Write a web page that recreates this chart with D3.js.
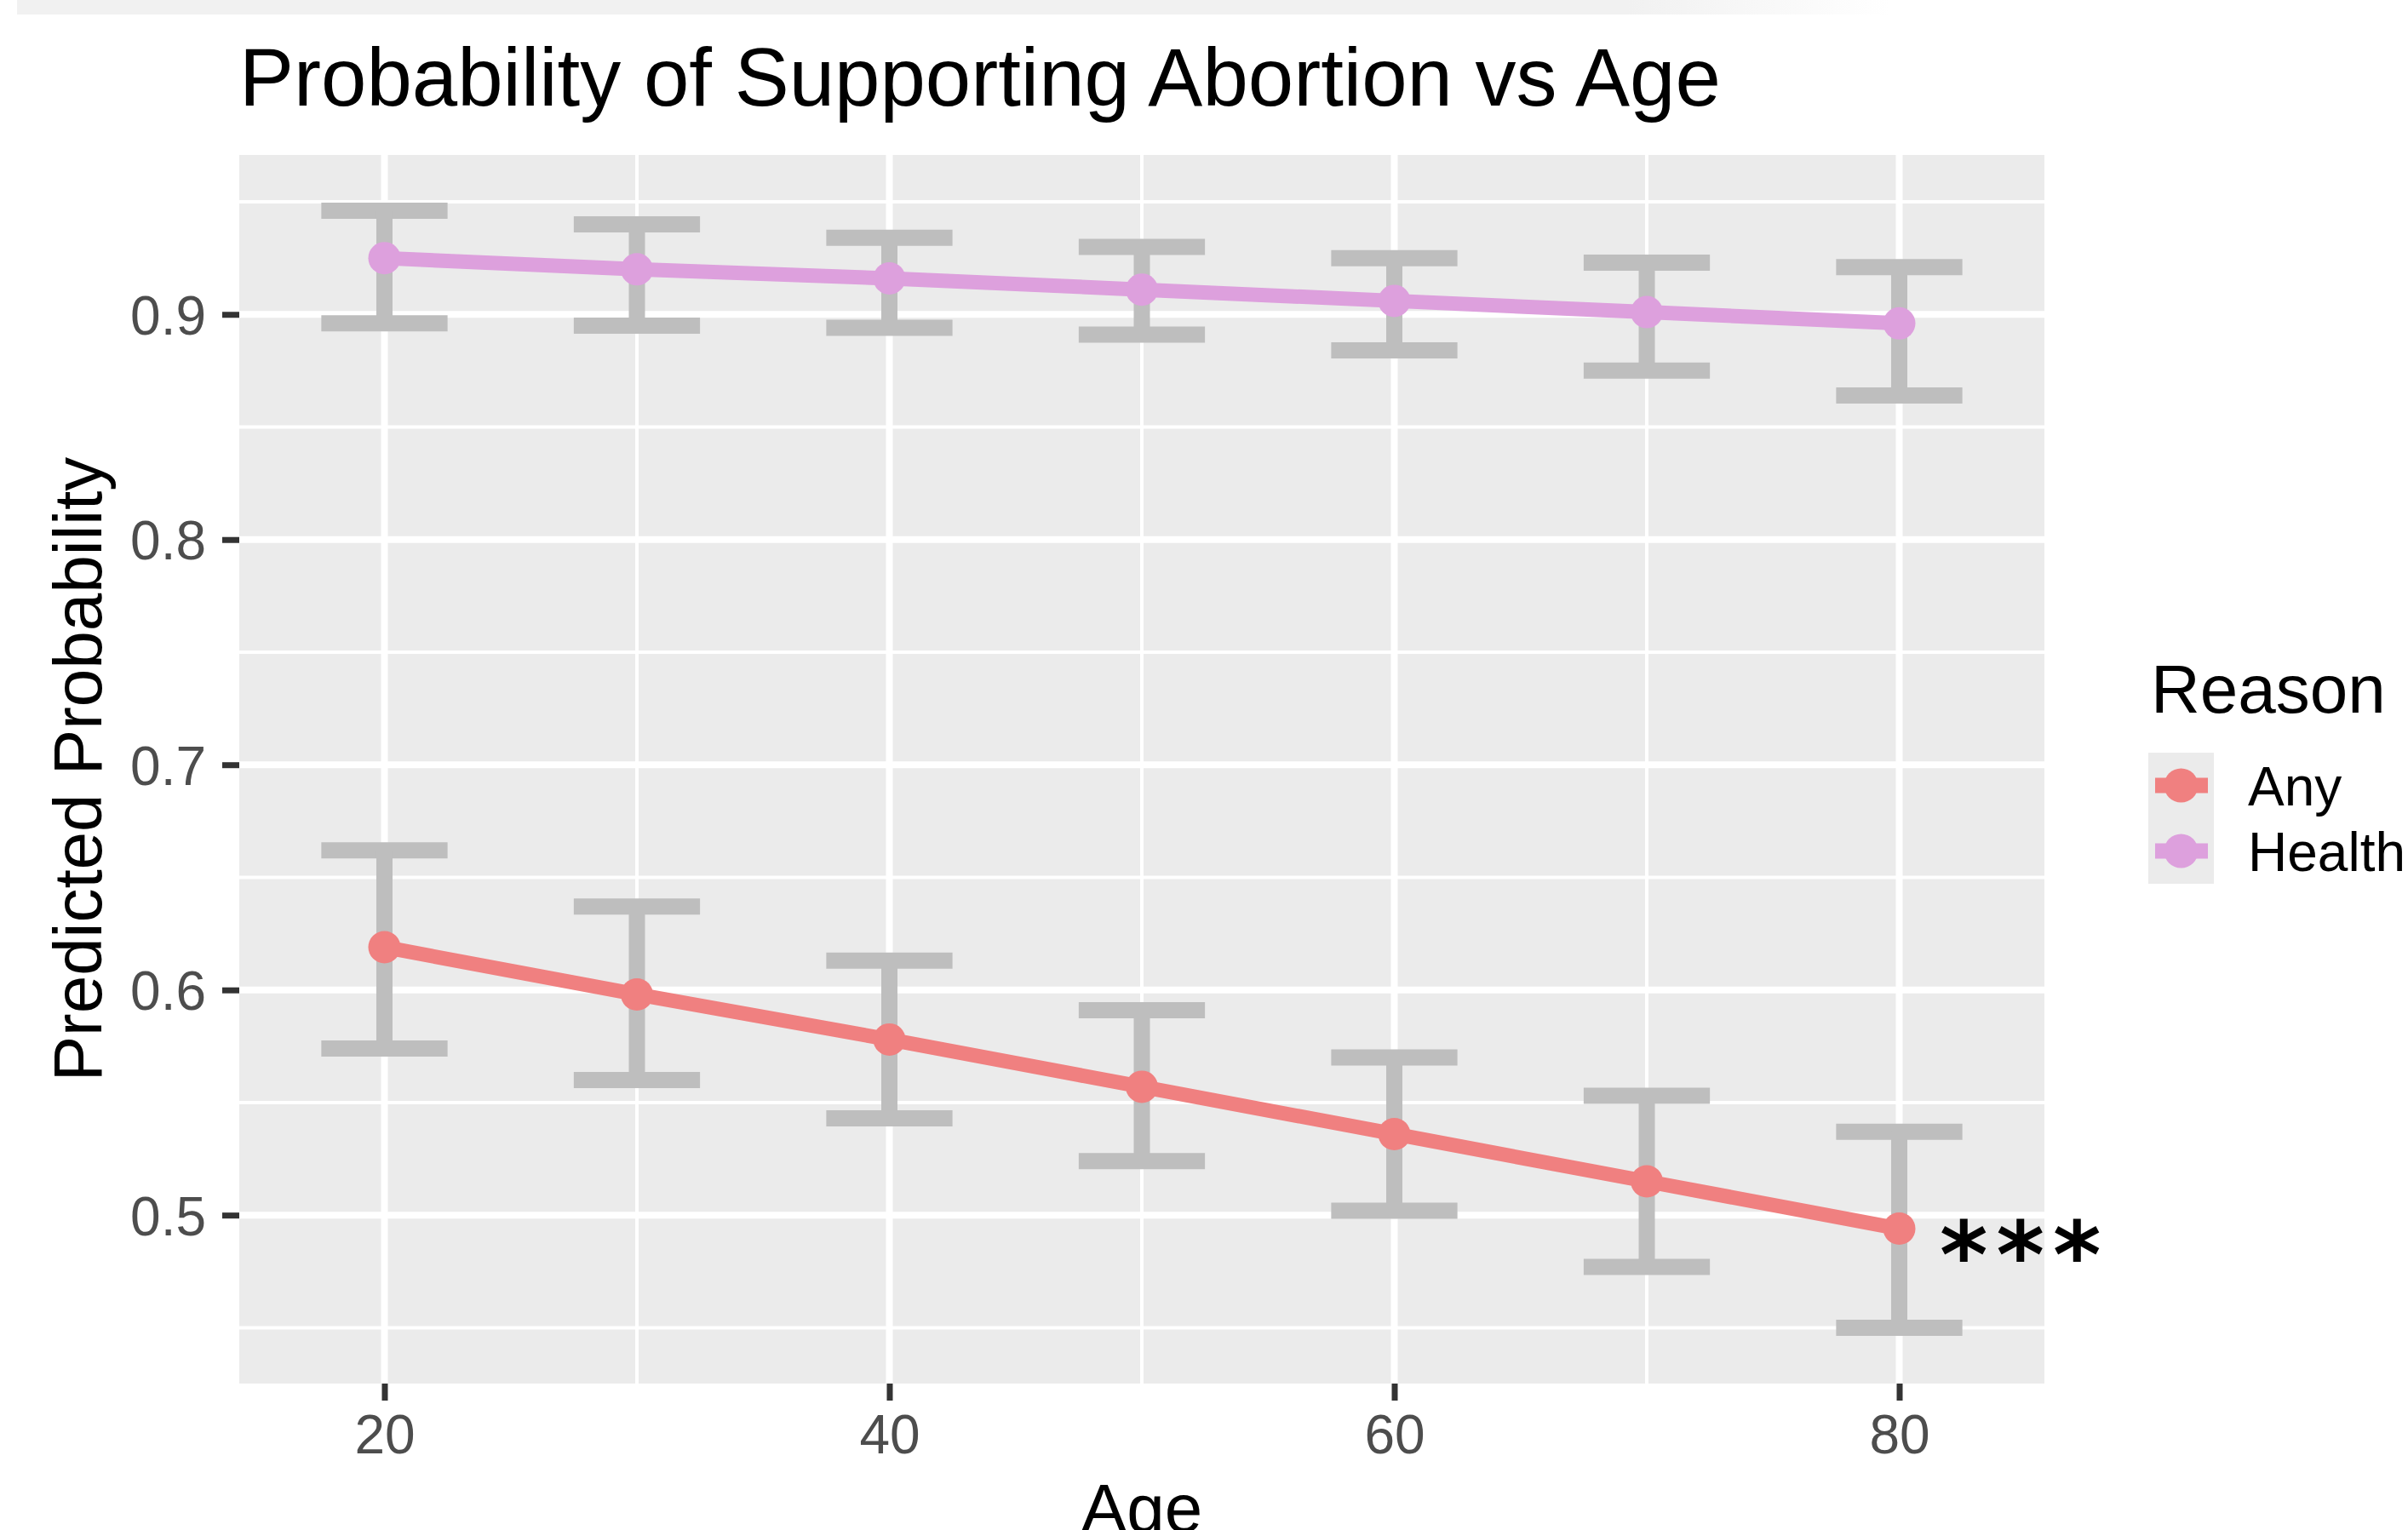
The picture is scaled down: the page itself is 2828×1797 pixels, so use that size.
<!DOCTYPE html>
<html>
<head>
<meta charset="utf-8">
<title>Probability of Supporting Abortion vs Age</title>
<script src="https://d3js.org/d3.v7.min.js"></script>
<style>
    body { margin: 0; background: #ffffff; }
    svg { display: block; font-family: "Liberation Sans", Arial, Helvetica, sans-serif; }
</style>
</head>
<body>
<svg id="drawing_region"></svg>
<script>
// data
const ages = [20, 30, 40, 50, 60, 70, 80];
const reasons = ["Any", "Health"];
const anyProb   = [0.619, 0.598, 0.578, 0.557, 0.536, 0.515, 0.494];
const anyLower  = [0.574, 0.560, 0.543, 0.524, 0.502, 0.477, 0.450];
const anyUpper  = [0.662, 0.637, 0.613, 0.591, 0.570, 0.553, 0.537];
const healthProb  = [0.925, 0.920, 0.916, 0.911, 0.906, 0.901, 0.896];
const healthLower = [0.896, 0.895, 0.894, 0.891, 0.884, 0.875, 0.864];
const healthUpper = [0.946, 0.940, 0.934, 0.930, 0.925, 0.923, 0.921];
const xTicks = [20, 40, 60, 80];
const xMinorTicks = [30, 50, 70];
const yTicks = [0.5, 0.6, 0.7, 0.8, 0.9];
const yMinorTicks = [0.45, 0.55, 0.65, 0.75, 0.85, 0.95];
const annotLabel = "***";
const annotAge = 84.8;
const annotProb = 0.489;

const series = [
    { reason: reasons[0], prob: anyProb, lower: anyLower, upper: anyUpper },
    { reason: reasons[1], prob: healthProb, lower: healthLower, upper: healthUpper },
];

class ErrorLineChart {

    constructor( config, data ) {
        this.config = {
            parent: config.parent,
            width: config.width || 2828,
            height: config.height || 1797,
            panel: config.panel,
            barWidth: config.barWidth || 5,
        };
        this.data = data;
        this.init();
    }

    init() {
        let self = this;
        let p = self.config.panel;

        self.svg = d3.select(self.config.parent)
            .attr('width', self.config.width)
            .attr('height', self.config.height);

        // screenshot strip at the very top
        let grad = self.svg.append('defs').append('linearGradient')
            .attr('id', 'topband').attr('x1', '0').attr('x2', '1');
        grad.append('stop').attr('offset', '0.86').attr('stop-color', '#f1f1f1');
        grad.append('stop').attr('offset', '1').attr('stop-color', '#ffffff');
        self.svg.append('rect')
            .attr('x', 20).attr('y', 0).attr('width', 2200).attr('height', 17)
            .attr('fill', 'url(#topband)');

        // x range padded like ggplot: caps + 5%
        let xmin = d3.min(ages) - self.config.barWidth / 2;
        let xmax = d3.max(ages) + self.config.barWidth / 2;
        let xpad = (xmax - xmin) * 0.05;
        self.xscale = d3.scaleLinear()
            .domain([xmin - xpad, xmax + xpad])
            .range([p.left, p.right]);

        let ymin = d3.min(self.data, d => d3.min(d.lower));
        let ymax = d3.max(self.data, d => d3.max(d.upper));
        let ypad = (ymax - ymin) * 0.05;
        self.yscale = d3.scaleLinear()
            .domain([ymin - ypad, ymax + ypad])
            .range([p.bottom, p.top]);

        self.color = d3.scaleOrdinal()
            .domain(reasons)
            .range(['#f08080', '#dda0dd']);
    }

    update() {
        let self = this;
        self.render();
    }

    render() {
        let self = this;
        let p = self.config.panel;
        let x = self.xscale, y = self.yscale;

        // panel + grid
        self.svg.append('rect')
            .attr('x', p.left).attr('y', p.top)
            .attr('width', p.right - p.left).attr('height', p.bottom - p.top)
            .attr('fill', '#ebebeb');

        let grid = self.svg.append('g');
        grid.selectAll('.ymin').data(yMinorTicks).enter().append('line')
            .attr('x1', p.left).attr('x2', p.right)
            .attr('y1', d => y(d)).attr('y2', d => y(d))
            .attr('stroke', '#ffffff').attr('stroke-width', 4);
        grid.selectAll('.xmin').data(xMinorTicks).enter().append('line')
            .attr('y1', p.top).attr('y2', p.bottom)
            .attr('x1', d => x(d)).attr('x2', d => x(d))
            .attr('stroke', '#ffffff').attr('stroke-width', 4);
        grid.selectAll('.ymaj').data(yTicks).enter().append('line')
            .attr('x1', p.left).attr('x2', p.right)
            .attr('y1', d => y(d)).attr('y2', d => y(d))
            .attr('stroke', '#ffffff').attr('stroke-width', 8);
        grid.selectAll('.xmaj').data(xTicks).enter().append('line')
            .attr('y1', p.top).attr('y2', p.bottom)
            .attr('x1', d => x(d)).attr('x2', d => x(d))
            .attr('stroke', '#ffffff').attr('stroke-width', 8);

        // axes
        let yAxis = d3.axisLeft(y).tickValues(yTicks).tickSize(20).tickPadding(19)
            .tickFormat(d3.format('.1f'));
        let yg = self.svg.append('g')
            .attr('transform', `translate(${p.left},0)`)
            .call(yAxis);
        let xAxis = d3.axisBottom(x).tickValues(xTicks).tickSize(20).tickPadding(17)
            .tickFormat(d3.format('d'));
        let xg = self.svg.append('g')
            .attr('transform', `translate(0,${p.bottom})`)
            .call(xAxis);
        [yg, xg].forEach(g => {
            g.select('.domain').remove();
            g.selectAll('.tick line').attr('stroke', '#333333').attr('stroke-width', 7);
            g.selectAll('.tick text')
                .attr('fill', '#4d4d4d')
                .style('font-size', '64px')
                .style('font-family', '"Liberation Sans", Arial, sans-serif');
        });
        yg.selectAll('.tick text').attr('dy', '0.36em');
        xg.selectAll('.tick text').attr('dy', '0.71em');

        // error bars
        let bars = self.svg.append('g');
        let half = self.config.barWidth / 2;
        self.data.forEach(s => {
            ages.forEach((a, i) => {
                let g = bars.append('g')
                    .attr('stroke', '#bebebe').attr('stroke-width', 19)
                    .attr('fill', 'none');
                g.append('line')
                    .attr('x1', x(a - half)).attr('x2', x(a + half))
                    .attr('y1', y(s.upper[i])).attr('y2', y(s.upper[i]));
                g.append('line')
                    .attr('x1', x(a)).attr('x2', x(a))
                    .attr('y1', y(s.upper[i])).attr('y2', y(s.lower[i]));
                g.append('line')
                    .attr('x1', x(a - half)).attr('x2', x(a + half))
                    .attr('y1', y(s.lower[i])).attr('y2', y(s.lower[i]));
            });
        });

        // lines + points
        let line = d3.line()
            .x((d, i) => x(ages[i]))
            .y(d => y(d));
        self.data.forEach(s => {
            self.svg.append('path')
                .attr('d', line(s.prob))
                .attr('fill', 'none')
                .attr('stroke', self.color(s.reason))
                .attr('stroke-width', 17);
            self.svg.selectAll(null).data(s.prob).enter().append('circle')
                .attr('cx', (d, i) => x(ages[i]))
                .attr('cy', d => y(d))
                .attr('r', 19)
                .attr('fill', self.color(s.reason));
        });

        // significance label
        self.svg.append('text')
            .attr('x', x(annotAge))
            .attr('y', y(annotProb) + 56)
            .attr('dx', 5)
            .attr('text-anchor', 'middle')
            .style('font-family', '"DejaVu Sans", sans-serif')
            .style('font-weight', 'bold')
            .style('font-size', '108px')
            .style('letter-spacing', '10px')
            .attr('fill', '#000000')
            .text(annotLabel);

        // titles
        self.svg.append('text')
            .attr('x', 281).attr('y', 124)
            .style('font-size', '96px')
            .text('Probability of Supporting Abortion vs Age');
        self.svg.append('text')
            .attr('transform', `translate(119,${(p.top + p.bottom) / 2}) rotate(-90)`)
            .attr('text-anchor', 'middle')
            .style('font-size', '80px')
            .text('Predicted Probability');
        self.svg.append('text')
            .attr('x', (p.left + p.right) / 2).attr('y', 1799)
            .attr('text-anchor', 'middle')
            .style('font-size', '80px')
            .text('Age');

        // legend
        let lg = self.svg.append('g');
        lg.append('text')
            .attr('x', 2526).attr('y', 837)
            .style('font-size', '80px')
            .text('Reason');
        let key = lg.selectAll('.key').data(reasons).enter().append('g')
            .attr('transform', (d, i) => `translate(2523,${884 + i * 77})`);
        key.append('rect')
            .attr('width', 77).attr('height', 77)
            .attr('fill', '#ebebeb');
        key.append('line')
            .attr('x1', 8).attr('x2', 70).attr('y1', 38.5).attr('y2', 38.5)
            .attr('stroke', d => self.color(d)).attr('stroke-width', 18);
        key.append('circle')
            .attr('cx', 38.5).attr('cy', 38.5).attr('r', 20)
            .attr('fill', d => self.color(d));
        key.append('text')
            .attr('x', 117).attr('y', 38.5 + 23)
            .style('font-size', '64px')
            .text(d => d);
    }
}

const chart = new ErrorLineChart({
    parent: '#drawing_region',
    width: 2828,
    height: 1797,
    panel: { left: 281, right: 2401, top: 182, bottom: 1625 },
    barWidth: 5,
}, series);
chart.update();
</script>
</body>
</html>
